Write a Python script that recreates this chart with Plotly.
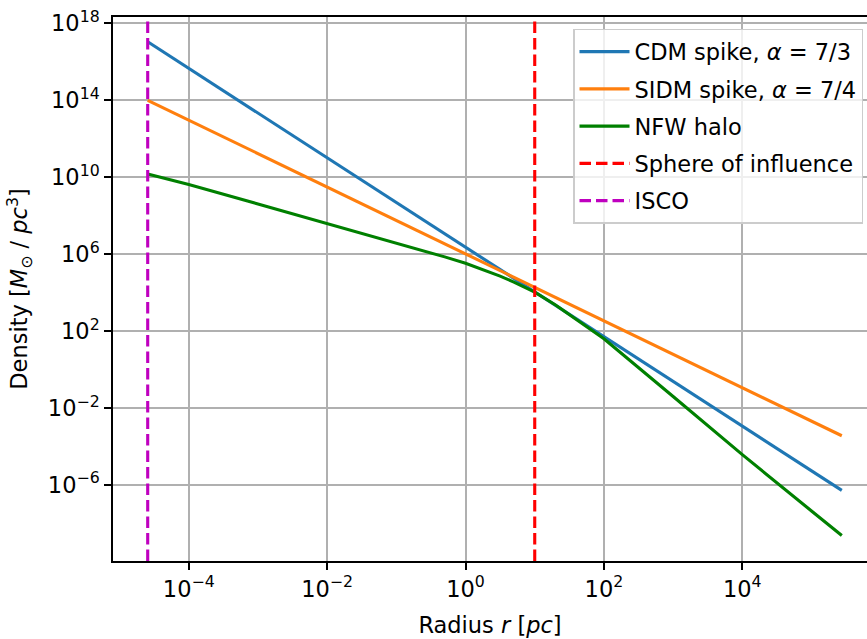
import plotly.graph_objects as go

# ---- data (radius in pc, density in Msun/pc^3) ----
R_ISCO = 2.55e-5
R_SP = 10.0
R_END = 2.74e5

cdm_r = [R_ISCO, R_END]
cdm_rho = [1.10e17, 5.25e-7]

sidm_r = [R_ISCO, R_END]
sidm_rho = [1.0e14, 3.63e-4]

nfw_r = [R_ISCO, 1e-4, 1e-3, 1e-2, 1e-1, 0.5, 1.0, 2.0, 3.16, 5.0, 10.0,
         20.0, 31.6, 50.0, 100.0, 1e3, 1e4, 1e5, R_END]
nfw_rho = [10**10.17, 10**9.62, 10**8.61, 10**7.60, 10**6.58, 10**5.86,
           10**5.53, 10**5.14, 10**4.86, 10**4.55, 10**4.03, 10**3.36,
           10**2.87, 10**2.35, 10**1.60, 10**-1.40, 10**-4.42, 10**-7.35,
           10**-8.62]

x_tickvals = [1e-4, 1e-2, 1e0, 1e2, 1e4]
x_ticktext = ["10<sup>\u22124</sup>", "10<sup>\u22122</sup>", "10<sup>0</sup>",
              "10<sup>2</sup>", "10<sup>4</sup>"]
y_tickvals = [1e-6, 1e-2, 1e2, 1e6, 1e10, 1e14, 1e18]
y_ticktext = ["10<sup>\u22126</sup>", "10<sup>\u22122</sup>", "10<sup>2</sup>",
              "10<sup>6</sup>", "10<sup>10</sup>", "10<sup>14</sup>", "10<sup>18</sup>"]

X_RANGE = [-5.095, 5.802]   # log10
Y_RANGE = [-9.95, 18.33]    # log10

FONT = "DejaVu Sans"
FS = 22.5
LW = 3.1
DASH = "11.5px,5px"

fig = go.Figure()
fig.add_trace(go.Scatter(x=cdm_r, y=cdm_rho, mode="lines", name="CDM spike, <i>\u03b1</i> = 7/3",
                         line=dict(color="#1f77b4", width=LW), legendgroup="a"))
fig.add_trace(go.Scatter(x=sidm_r, y=sidm_rho, mode="lines", name="SIDM spike, <i>\u03b1</i> = 7/4",
                         line=dict(color="#ff7f0e", width=LW), legendgroup="b"))
fig.add_trace(go.Scatter(x=nfw_r, y=nfw_rho, mode="lines", name="NFW halo",
                         line=dict(color="#008000", width=LW), legendgroup="c"))
fig.add_trace(go.Scatter(x=[R_SP, R_SP], y=[10**Y_RANGE[0], 10**Y_RANGE[1]], mode="lines",
                         name="Sphere of influence",
                         line=dict(color="#ff0000", width=LW, dash=DASH), legendgroup="d"))
fig.add_trace(go.Scatter(x=[R_ISCO, R_ISCO], y=[10**Y_RANGE[0], 10**Y_RANGE[1]], mode="lines",
                         name="ISCO",
                         line=dict(color="#bf00bf", width=LW, dash=DASH), legendgroup="e"))

axis_common = dict(type="log", showgrid=True, gridcolor="#b0b0b0", gridwidth=1.6,
                   showline=True, linecolor="black", linewidth=1.6,
                   ticks="outside", ticklen=7, tickwidth=1.6, tickcolor="black",
                   tickfont=dict(family=FONT, size=FS, color="black"))

fig.update_layout(
    width=867, height=639,
    margin=dict(l=113, r=0, t=17, b=77.5),
    paper_bgcolor="white", plot_bgcolor="white",
    font=dict(family=FONT, size=FS, color="black"),
    xaxis=dict(range=X_RANGE, tickmode="array", tickvals=x_tickvals, ticktext=x_ticktext,
               mirror=True,
               title=dict(text="Radius <i>r</i> [<i>pc</i>]", font=dict(family=FONT, size=FS),
                          standoff=16),
               **axis_common),
    yaxis=dict(range=Y_RANGE, tickmode="array", tickvals=y_tickvals, ticktext=y_ticktext,
               mirror=False,
               title=dict(text="Density [<i>M</i><sub>\u2299</sub> / <i>pc</i><sup>3</sup>]",
                          font=dict(family=FONT, size=FS), standoff=14),
               **axis_common),
    legend=dict(x=0.9947, xanchor="right", y=0.978, yanchor="top",
                bgcolor="rgba(255,255,255,0.8)", bordercolor="#cccccc", borderwidth=1.5,
                font=dict(family=FONT, size=FS, color="black"),
                traceorder="grouped", tracegroupgap=5, itemwidth=50),
    showlegend=True,
)

fig.write_html("out.html")
